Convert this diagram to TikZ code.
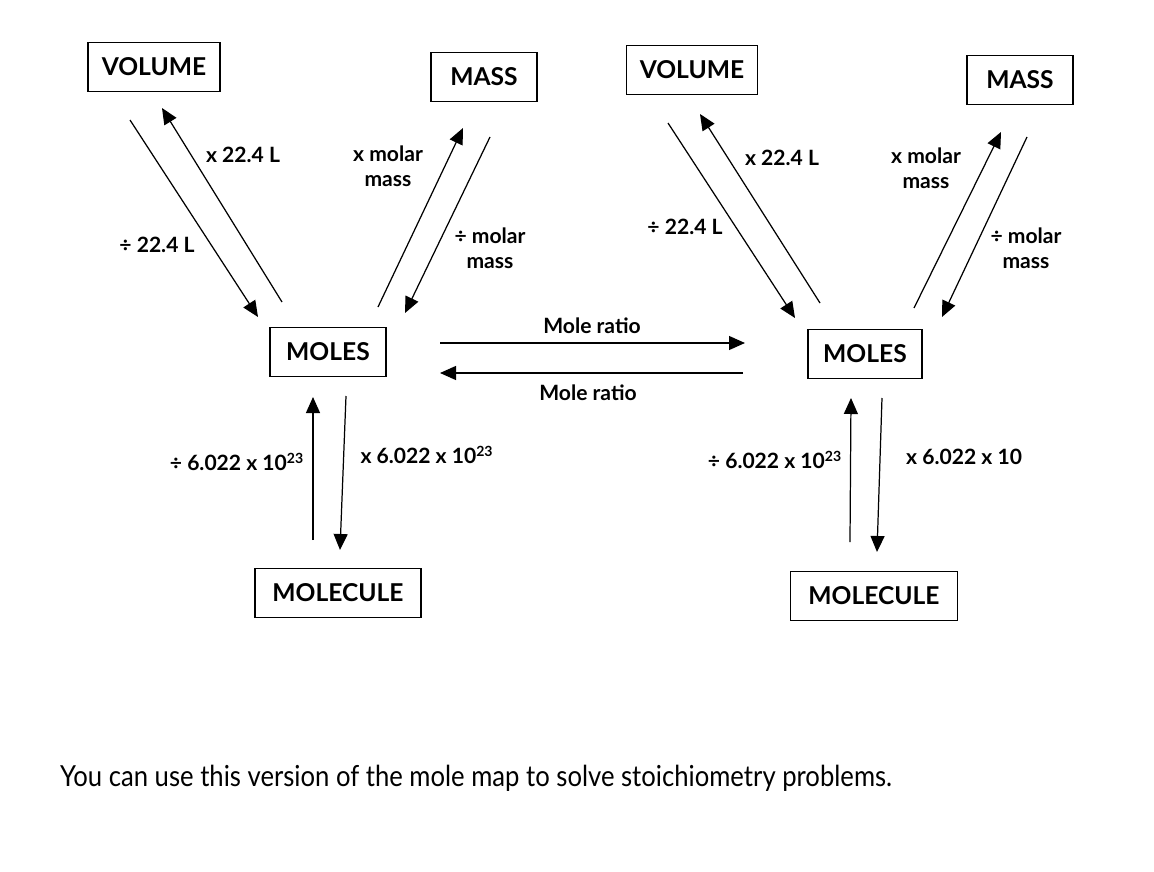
\documentclass[tikz,border=0pt]{standalone}
\usepackage{fontspec}
\setmainfont{Lato}
\newfontfamily\notefont[FakeStretch=0.885]{Lato}
\usetikzlibrary{arrows.meta}
\begin{document}
\begin{tikzpicture}[x=0.02cm,y=-0.02cm]
\tikzset{
    moleBox/.style={rectangle,draw=black,line width=1.1pt,minimum height=0.98cm,align=center,font=\fontsize{14}{15}\selectfont\bfseries},
    moleLabel/.style={align=center,font=\fontsize{12}{14}\selectfont\bfseries},
    moleArrow/.style={line width=0.7pt,-{Triangle[length=0.32cm,width=0.28cm]}},
}
\useasboundingbox (0,0) rectangle (1154,872);

\node[moleBox,minimum width=2.64cm] (volL) at (154,67) {VOLUME};
\node[moleBox,minimum width=2.12cm] (massL) at (484,77) {MASS};
\node[moleBox,minimum width=2.32cm] (molesL) at (328,352) {MOLES};
\node[moleBox,minimum width=3.32cm] (molecL) at (338,593) {MOLECULE};

\node[moleBox,minimum width=2.62cm] (volR) at (692,70) {VOLUME};
\node[moleBox,minimum width=2.12cm] (massR) at (1020,80) {MASS};
\node[moleBox,minimum width=2.28cm] (molesR) at (865,354) {MOLES};
\node[moleBox,minimum width=3.34cm] (molecR) at (874,596) {MOLECULE};

% arrow ends
\foreach \n/\x/\y in {
    vlDs/130/120, vlDe/258/317, vlUs/282/302, vlUe/162/108,
    mlUs/378/307, mlUe/463/128, mlDs/490/137, mlDe/405/313,
    clUs/313/540, clUe/313/397, clDs/346/396, clDe/340/550,
    rtRs/440/343, rtRe/745/343, rtLs/743/373, rtLe/440/373,
    vrDs/668/123, vrDe/795/318, vrUs/820/303, vrUe/700/114,
    mrUs/914/308, mrUe/1001/132, mrDs/1027/137, mrDe/942/317,
    crUs/850/542, crUe/851/398, crDs/882/398, crDe/877/552
} {
    \coordinate (\n) at (\x,\y);
}
\foreach \a in {vlD,vlU,mlU,mlD,clU,clD,rtR,rtL,vrD,vrU,mrU,mrD,crU,crD} {
    \draw[moleArrow] (\a s) -- (\a e);
}

\node[moleLabel] (lbVlU) at (243,155) {x 22.4 L};
\node[moleLabel] (lbVlD) at (157,245) {÷ 22.4 L};
\node[moleLabel] (lbMlU) at (388,166) {x molar\\mass};
\node[moleLabel] (lbMlD) at (490,248) {÷ molar\\mass};
\node[moleLabel] (lbClU) at (237,462) {÷ 6.022 x 10\textsuperscript{23}};
\node[moleLabel] (lbClD) at (427,455) {x 6.022 x 10\textsuperscript{23}};

\node[moleLabel] (lbRtR) at (592,326) {Mole ratio};
\node[moleLabel] (lbRtL) at (588,393) {Mole ratio};

\node[moleLabel] (lbVrU) at (782,158) {x 22.4 L};
\node[moleLabel] (lbVrD) at (685,227) {÷ 22.4 L};
\node[moleLabel] (lbMrU) at (926,168) {x molar\\mass};
\node[moleLabel] (lbMrD) at (1026,248) {÷ molar\\mass};
\node[moleLabel] (lbCrU) at (775,460) {÷ 6.022 x 10\textsuperscript{23}};
\node[moleLabel,anchor=west] (lbCrD) at (900,457) {x 6.022 x 10};

\node[font=\notefont\fontsize{16.5}{18}\selectfont,anchor=west] (note) at (54,778) {You can use this version of the mole map to solve stoichiometry problems.};
\end{tikzpicture}
\end{document}
